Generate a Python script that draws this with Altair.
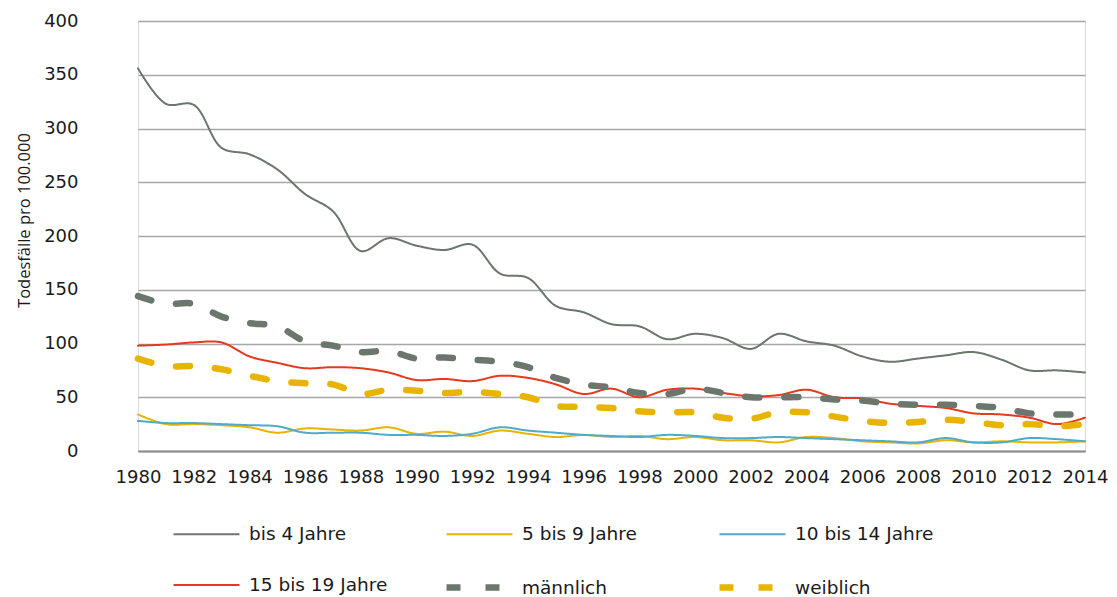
import altair as alt
import pandas as pd

years = list(range(1980, 2015))

bis4 = [356, 323, 322, 282, 276, 262, 239, 223, 186, 198, 191, 187, 192, 165, 161, 135, 129, 118, 116, 104, 109, 105, 95, 109, 102, 98, 88, 83, 86, 89, 92, 85, 75, 75, 73]
b5_9 = [34, 25, 25, 24, 22, 17, 21, 20, 19, 22, 16, 18, 14, 19, 16, 13, 15, 13, 14, 11, 13, 10, 10, 8, 13, 12, 9, 8, 7, 10, 8, 9, 8, 8, 9]
b10_14 = [28, 26, 26, 25, 24, 23, 17, 17, 17, 15, 15, 14, 16, 22, 19, 17, 15, 14, 13, 15, 14, 12, 12, 13, 12, 11, 10, 9, 8, 12, 8, 8, 12, 11, 9]
b15_19 = [98, 99, 101, 101, 88, 82, 77, 78, 77, 73, 66, 67, 65, 70, 68, 62, 53, 58, 50, 57, 58, 54, 51, 52, 57, 50, 49, 44, 42, 40, 35, 34, 31, 25, 31]
maennlich = [144, 137, 137, 125, 119, 116, 102, 98, 92, 93, 86, 87, 85, 83, 78, 68, 62, 59, 54, 53, 58, 54, 50, 50, 50, 48, 47, 44, 43, 43, 42, 40, 35, 34, 34]
weiblich = [86, 79, 79, 76, 70, 65, 63, 62, 53, 57, 56, 54, 55, 53, 50, 42, 41, 40, 37, 36, 36, 31, 30, 36, 36, 32, 28, 26, 27, 29, 27, 24, 25, 23, 25]

series_names = ["bis 4 Jahre", "5 bis 9 Jahre", "10 bis 14 Jahre", "15 bis 19 Jahre", "männlich", "weiblich"]
series_values = [bis4, b5_9, b10_14, b15_19, maennlich, weiblich]
colors = ["#6B776D", "#E8B400", "#4FAACB", "#E63A1F", "#6B776D", "#E8B400"]
dashes = [[1, 0], [1, 0], [1, 0], [1, 0], [14, 25], [14, 25]]
widths = [2, 2, 2, 2, 6.5, 6.5]
x_ticks = list(range(1980, 2015, 2))
y_ticks = [0, 50, 100, 150, 200, 250, 300, 350, 400]

rows = []
for name, vals in zip(series_names, series_values):
    for y, v in zip(years, vals):
        rows.append({"Jahr": y, "Wert": v, "Serie": name})
df = pd.DataFrame(rows)

FONT = "DejaVu Sans"
TITLE_FONT = "Open Sans"
TXT = "#1a1a1a"

legend = alt.Legend(title=None, orient="none", legendX=54, legendY=498,
                    columns=3, direction="horizontal", gridAlign="all",
                    columnPadding=45, rowPadding=26,
                    symbolType="M-3,0H3", symbolSize=484, labelOffset=28,
                    labelFont=FONT, labelFontSize=18.5, labelColor=TXT,
                    padding=0)

chart = alt.Chart(df).mark_line(interpolate="catmull-rom", strokeCap="round").encode(
    x=alt.X("Jahr:Q", scale=alt.Scale(domain=[1980, 2014], nice=False, zero=False),
            axis=alt.Axis(values=x_ticks, format="d", title=None, grid=False, ticks=False,
                          labelPadding=17, labelFontSize=18, labelFont=FONT, labelColor=TXT,
                          domainColor="#8C8C8C", domainWidth=2, labelFlush=False)),
    y=alt.Y("Wert:Q", scale=alt.Scale(domain=[0, 400], nice=False),
            axis=alt.Axis(values=y_ticks, title="Todesfälle pro 100.000", domain=False, ticks=False,
                          labelPadding=60, labelFontSize=18, labelFont=FONT, labelColor=TXT,
                          titleFont=TITLE_FONT, titleFontSize=16.5, titleFontWeight="normal", titleColor=TXT,
                          titlePadding=11, titleY=199, gridColor="#A6A6A6", gridWidth=1.3)),
    color=alt.Color("Serie:O", sort=series_names,
                    scale=alt.Scale(domain=series_names, range=colors), legend=legend),
    strokeDash=alt.StrokeDash("Serie:O", sort=series_names,
                              scale=alt.Scale(domain=series_names, range=dashes), legend=legend),
    strokeWidth=alt.StrokeWidth("Serie:O", sort=series_names,
                                scale=alt.Scale(type="ordinal", domain=series_names, range=widths), legend=legend),
    order=alt.Order("Jahr:Q"),
).properties(
    width=947, height=430, padding={"left": 8, "top": 4, "right": 0, "bottom": 0}
).configure_view(stroke=None).configure(background="white")

chart.save("out.html", embed_options={"renderer": "svg", "actions": False})
